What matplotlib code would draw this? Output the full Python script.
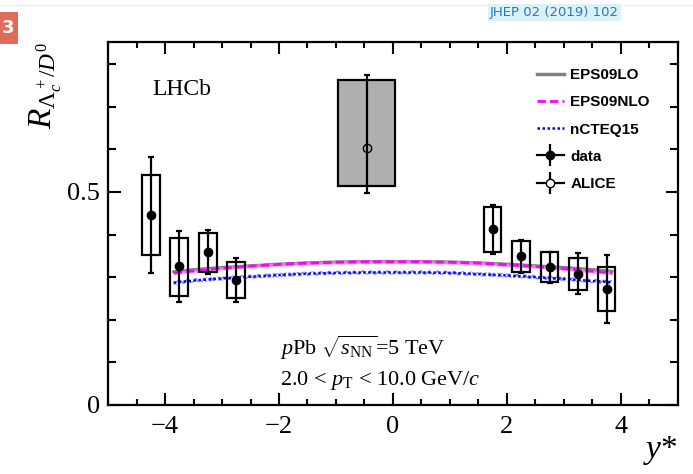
import matplotlib
matplotlib.use('Agg')
import matplotlib.pyplot as plt
from matplotlib.patches import Rectangle
from matplotlib.lines import Line2D
from matplotlib.ticker import MultipleLocator, FixedLocator, FixedFormatter
import numpy as np

plt.rcParams['font.family'] = ['Liberation Serif', 'DejaVu Serif']
plt.rcParams['mathtext.fontset'] = 'custom'
plt.rcParams['mathtext.rm'] = 'Liberation Serif'
plt.rcParams['mathtext.it'] = 'Liberation Serif:italic'
plt.rcParams['mathtext.bf'] = 'Liberation Serif:bold'

# LHCb data
y_lhcb = [-4.25, -3.75, -3.25, -2.75, 1.75, 2.25, 2.75, 3.25, 3.75]
r_lhcb = [0.446, 0.326, 0.359, 0.293, 0.413, 0.350, 0.324, 0.307, 0.272]
stat_lo = [0.310, 0.242, 0.308, 0.242, 0.354, 0.310, 0.286, 0.261, 0.192]
stat_hi = [0.582, 0.408, 0.411, 0.345, 0.469, 0.387, 0.360, 0.357, 0.352]
syst_lo = [0.352, 0.256, 0.312, 0.251, 0.359, 0.312, 0.289, 0.270, 0.221]
syst_hi = [0.540, 0.392, 0.404, 0.336, 0.465, 0.385, 0.359, 0.345, 0.324]

# ALICE
y_alice = [-0.46]
r_alice = [0.603]
alice_stat = [(0.498, 0.775)]
alice_syst = [(0.514, 0.763)]
alice_halfwidth = 0.5

# theory curves
y_th = [-3.85, -3.5, -3.0, -2.5, -2.0, -1.5, -1.0, -0.5, 0.0, 0.5, 1.0, 1.5, 2.0, 2.5, 3.0, 3.5, 3.85]
eps09lo = [0.313, 0.318, 0.323, 0.327, 0.331, 0.334, 0.336, 0.337, 0.337, 0.337, 0.336, 0.334, 0.331, 0.327, 0.323, 0.318, 0.314]
eps09nlo = [0.310, 0.315, 0.321, 0.326, 0.330, 0.333, 0.335, 0.336, 0.336, 0.336, 0.335, 0.333, 0.329, 0.325, 0.320, 0.314, 0.310]
ncteq15 = [0.287, 0.292, 0.297, 0.301, 0.305, 0.308, 0.310, 0.311, 0.311, 0.311, 0.310, 0.307, 0.304, 0.300, 0.296, 0.291, 0.288]

fig = plt.figure(figsize=(6.93, 4.74), dpi=100)
ax = fig.add_axes([0.156, 0.1456, 0.822, 0.766])

yt = np.array(y_th)
ax.fill_between(yt, np.array(eps09lo) - 0.003, np.array(eps09lo) + 0.003, color='#a0a0a0', lw=0, zorder=2)
ax.plot(yt, eps09lo, color='#808080', lw=2, zorder=2)
ax.fill_between(yt, np.array(eps09nlo) - 0.004, np.array(eps09nlo) + 0.004, color='#f080f0', lw=0, alpha=0.8, zorder=3)
ax.plot(yt, eps09nlo, color='#ff00ff', lw=2, ls=(0, (3, 1.5)), zorder=3)
ax.fill_between(yt, np.array(ncteq15) - 0.005, np.array(ncteq15) + 0.005, facecolor='none',
                edgecolor='#8080ff', hatch='xxxx', lw=0, zorder=3)
ax.plot(yt, ncteq15, color='#0000ff', lw=1.8, ls=(0, (1, 1)), zorder=3)

# systematic boxes
bw = 0.155
for x, lo, hi in zip(y_lhcb, syst_lo, syst_hi):
    ax.add_patch(Rectangle((x - bw, lo), 2 * bw, hi - lo, fill=False, ec='black', lw=1.6, zorder=4))
for x, (lo, hi) in zip(y_alice, alice_syst):
    ax.add_patch(Rectangle((x - alice_halfwidth, lo), 2 * alice_halfwidth, hi - lo,
                           fc='#b0b0b0', ec='black', lw=1.6, zorder=4))

yerr = [np.array(r_lhcb) - np.array(stat_lo), np.array(stat_hi) - np.array(r_lhcb)]
ax.errorbar(y_lhcb, r_lhcb, yerr=yerr, fmt='o', color='black', ms=6, elinewidth=1.6,
            capsize=2.5, capthick=1.6, zorder=5)
aerr = [[r_alice[0] - alice_stat[0][0]], [alice_stat[0][1] - r_alice[0]]]
ax.errorbar(y_alice, r_alice, yerr=aerr, fmt='o', mfc='none', mec='black', color='black', ms=6,
            elinewidth=1.6, capsize=2.5, capthick=1.6, zorder=5)

ax.set_xlim(-5, 5)
ax.set_ylim(0, 0.852)
ax.xaxis.set_major_locator(MultipleLocator(2))
ax.xaxis.set_minor_locator(MultipleLocator(0.5))
ax.yaxis.set_major_locator(FixedLocator([0, 0.5]))
ax.yaxis.set_major_formatter(FixedFormatter(['0', '0.5']))
ax.yaxis.set_minor_locator(MultipleLocator(0.1))
ax.set_xticks([-4, -2, 0, 2, 4])
ax.set_xticklabels(['\u22124', '\u22122', '0', '2', '4'])
ax.tick_params(which='both', direction='in', top=True, right=True, width=1.5, labelsize=19, colors='black')
ax.tick_params(axis='x', which='major', length=8.5, pad=8)
ax.tick_params(axis='x', which='minor', length=4.5)
ax.tick_params(axis='y', which='major', length=9, pad=6)
ax.tick_params(axis='y', which='minor', length=6)
for s in ax.spines.values():
    s.set_linewidth(1.6)

fig.text(0.066, 0.82, r'$R_{\Lambda_c^+/D^0}$', rotation=90, fontsize=24, ha='center', va='center')
fig.text(0.978, 0.015, r'$y$*', fontsize=24, ha='right', va='bottom')

ax.text(-4.23, 0.74, 'LHCb', fontsize=17, ha='left', va='center')
ax.text(-1.98, 0.117, r'$p$Pb $\sqrt{s_{\rm NN}}$=5 TeV', fontsize=16, ha='left', va='baseline')
ax.text(-1.98, 0.047, r'2.0 < $p_{\rm T}$ < 10.0 GeV/$c$', fontsize=16, ha='left', va='baseline')

vbar = dict(marker='|', ls='none', color='black', ms=16, mew=1.6)
handles = [
    Line2D([], [], color='#808080', lw=2.5),
    Line2D([], [], color='#ff00ff', lw=2, ls=(0, (3, 1.5))),
    Line2D([], [], color='#0000ff', lw=1.8, ls=(0, (1, 1))),
    (Line2D([], [], color='black', lw=1.6), Line2D([], [], **vbar),
     Line2D([], [], marker='o', ls='none', color='black', ms=6)),
    (Line2D([], [], color='black', lw=1.6), Line2D([], [], **vbar),
     Line2D([], [], marker='o', ls='none', mfc='white', mec='black', ms=6)),
]
labels = ['EPS09LO', 'EPS09NLO', 'nCTEQ15', 'data', 'ALICE']
leg = ax.legend(handles, labels, loc='upper right', bbox_to_anchor=(0.975, 0.965), frameon=False,
                prop={'family': 'Liberation Sans', 'weight': 'bold', 'size': 11},
                handlelength=1.8, handletextpad=0.4, labelspacing=0.86)

# page decorations
fig.patches.append(Rectangle((0, 0.907), 0.026, 0.068, transform=fig.transFigure, fc='#e06b58', ec='none'))
fig.text(0.002, 0.94, '3', color='white', fontsize=13, fontweight='bold', family='DejaVu Sans',
         ha='left', va='center')
fig.lines.append(Line2D([0, 1], [0.99, 0.99], transform=fig.transFigure, color='#eeeeee', lw=1))
fig.text(0.8, 0.973, 'JHEP 02 (2019) 102', color='#2a78b8', fontsize=9.5, family='DejaVu Sans',
         ha='center', va='center', bbox=dict(fc='#dcf0f8', ec='none', pad=1.5))
fig.lines.append(Line2D([0.723, 0.877], [0.958, 0.958], transform=fig.transFigure, color='#2a78b8', lw=0.8))

plt.savefig('out.png', dpi=100)
